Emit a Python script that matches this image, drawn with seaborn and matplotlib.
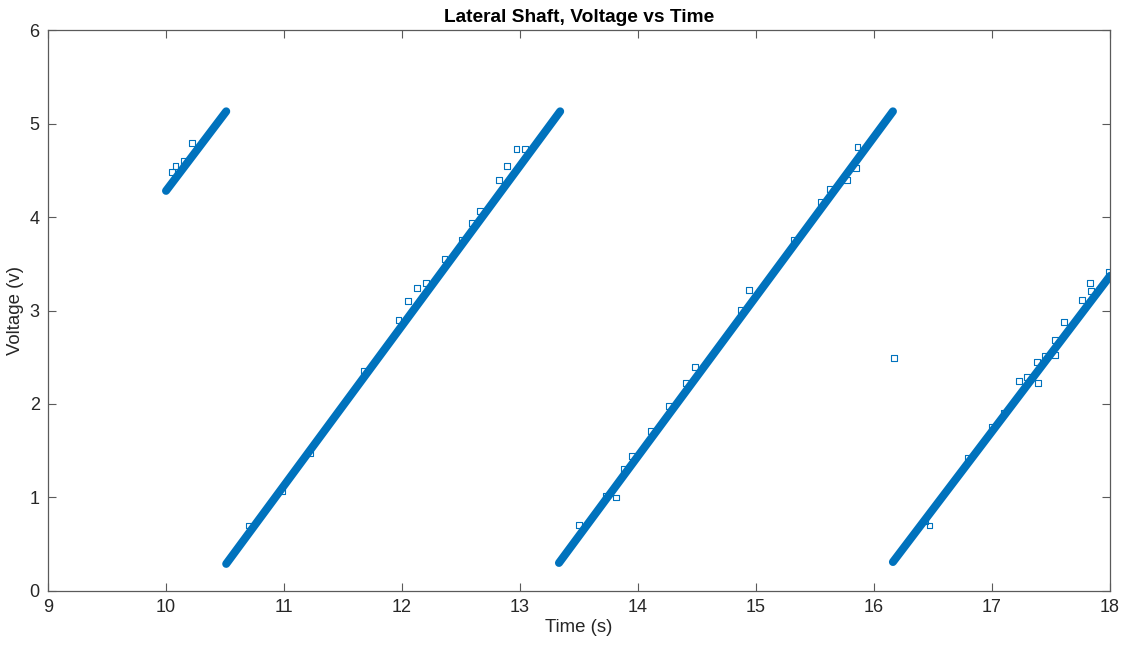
import matplotlib
matplotlib.use("Agg")
import matplotlib.pyplot as plt
import seaborn as sns
import pandas as pd

# Ramp segments (start/end of each dense run of samples)
seg_id = [1, 1, 2, 2, 3, 3, 4, 4]
seg_time = [10.0, 10.51, 10.51, 13.34, 13.33, 16.16, 16.16, 18.0]
seg_volt = [4.28, 5.13, 0.29, 5.13, 0.30, 5.13, 0.31, 3.37]

# Scattered samples lying off the main ramps
out_time = [10.05, 10.08, 10.15, 10.22,
            10.70, 10.98, 11.22, 11.68, 11.97, 12.05, 12.13, 12.20, 12.36,
            12.51, 12.59, 12.66, 12.82, 12.89, 12.97, 13.04,
            13.50, 13.73, 13.81, 13.88, 13.95, 14.11, 14.26, 14.41, 14.48,
            14.87, 14.94, 15.32, 15.55, 15.63, 15.77, 15.85, 15.86, 16.17,
            16.43, 16.47, 16.80, 17.00, 17.10, 17.23, 17.30, 17.38, 17.39,
            17.45, 17.53, 17.53, 17.61, 17.76, 17.83, 17.84, 17.99]
out_volt = [4.48, 4.55, 4.60, 4.79,
            0.70, 1.07, 1.47, 2.35, 2.90, 3.10, 3.24, 3.29, 3.55,
            3.76, 3.94, 4.06, 4.40, 4.55, 4.73, 4.73,
            0.71, 1.02, 1.00, 1.30, 1.44, 1.71, 1.98, 2.22, 2.40,
            3.01, 3.22, 3.76, 4.16, 4.30, 4.40, 4.52, 4.75, 2.49,
            0.75, 0.70, 1.42, 1.75, 1.90, 2.25, 2.29, 2.45, 2.22,
            2.51, 2.52, 2.68, 2.88, 3.11, 3.29, 3.21, 3.41]

x_ticks = [9, 10, 11, 12, 13, 14, 15, 16, 17, 18]
y_ticks = [0, 1, 2, 3, 4, 5, 6]

sns.set_theme(style="white")
plt.rcParams['font.family'] = ['Liberation Sans', 'DejaVu Sans']

blue = "#0072BD"
axcol = "#262626"

fig = plt.figure(figsize=(11.25, 6.5), dpi=100)
ax = fig.add_axes([0.0427, 0.0908, 0.944, 0.863])

seg_df = pd.DataFrame({"t": seg_time, "v": seg_volt, "seg": seg_id})
sns.lineplot(data=seg_df, x="t", y="v", units="seg", estimator=None,
             color=blue, linewidth=5.8, solid_capstyle="round", ax=ax,
             legend=False)

out_df = pd.DataFrame({"t": out_time, "v": out_volt})
sns.scatterplot(data=out_df, x="t", y="v", marker="s", s=18,
                facecolors="none", edgecolor=blue, linewidth=0.8, ax=ax,
                legend=False)

ax.set_xlim(9, 18)
ax.set_ylim(0, 6)
ax.set_xticks(x_ticks)
ax.set_yticks(y_ticks)
ax.set_xlabel("Time (s)", fontsize=13.4, color=axcol, labelpad=2)
ax.set_ylabel("Voltage (v)", fontsize=13.4, color=axcol, labelpad=4)
ax.set_title("Lateral Shaft, Voltage vs Time", fontsize=13.8,
             fontweight="bold", color="black", pad=6)

for sp in ax.spines.values():
    sp.set_visible(True)
    sp.set_color("#5a5a5a")
    sp.set_linewidth(0.9)
ax.tick_params(direction="in", length=6, width=0.8, color="#5a5a5a",
               labelsize=13, labelcolor=axcol, top=True, right=True,
               bottom=True, left=True, pad=6)
ax.grid(False)

fig.savefig("out.png", dpi=100, facecolor="white")
